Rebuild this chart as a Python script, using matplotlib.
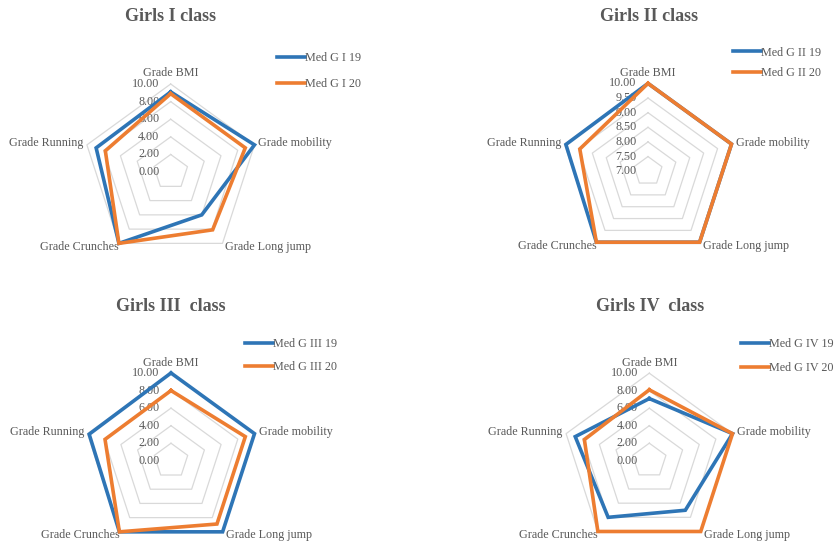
import matplotlib
matplotlib.use("Agg")
import matplotlib.pyplot as plt
import numpy as np
from matplotlib.lines import Line2D
from matplotlib.transforms import offset_copy

plt.rcParams["font.family"] = ["Liberation Serif", "DejaVu Serif"]

# ---- data ----
categories = ["Grade BMI", "Grade mobility", "Grade Long jump",
              "Grade Crunches", "Grade Running"]
titles = ["Girls I class", "Girls II class", "Girls III  class", "Girls IV  class"]
series_19 = ["Med G I 19", "Med G II 19", "Med G III 19", "Med G IV 19"]
series_20 = ["Med G I 20", "Med G II 20", "Med G III 20", "Med G IV 20"]

g1_19 = [9.1, 10.0, 6.0, 10.0, 8.9]
g1_20 = [8.9, 8.9, 8.1, 10.0, 7.8]
g2_19 = [10.0, 10.0, 10.0, 10.0, 9.95]
g2_20 = [10.0, 10.0, 10.0, 10.0, 9.45]
g3_19 = [10.0, 10.0, 10.0, 10.0, 9.8]
g3_20 = [8.0, 8.9, 8.9, 10.0, 7.9]
g4_19 = [7.1, 10.0, 7.0, 8.0, 8.9]
g4_20 = [8.1, 10.0, 10.0, 10.0, 7.8]

ticks_a = [0.0, 2.0, 4.0, 6.0, 8.0, 10.0]
ticks_b = [7.0, 7.5, 8.0, 8.5, 9.0, 9.5, 10.0]

data_19 = [g1_19, g2_19, g3_19, g4_19]
data_20 = [g1_20, g2_20, g3_20, g4_20]
ticks_all = [ticks_a, ticks_b, ticks_a, ticks_a]

# ---- styling / layout ----
W, H, DPI = 836, 546, 100
BLUE = "#2E75B6"
ORANGE = "#ED7D31"
GRID = "#D9D9D9"
TXT = "#595959"
FS = 8.7
LW = 2.6

# (centre x, centre y, radius) in pixels, y measured from top
geom = [(170.7, 172.1, 88.1), (648.0, 171.2, 87.8),
        (171.0, 460.8, 87.8), (649.3, 460.7, 87.5)]
title_pos = [(171, 16.5), (649, 16.5), (171, 306.5), (650, 306.5)]
legend_pos = [(277, 57.3, 25.4), (733, 51.7, 20.0),
              (245, 343.3, 22.7), (741, 343.3, 24.0)]

# label placement per category: (ha, va, dx px, dy px)
label_style = [("center", "bottom", 0, 4.5),
               ("left", "center", 4, 1.5),
               ("left", "center", 3, -3.5),
               ("right", "center", 0, -3.5),
               ("right", "center", -3.5, 1.5)]

fig = plt.figure(figsize=(W / DPI, H / DPI), dpi=DPI)
fig.patch.set_facecolor("white")

n = len(categories)
angles = np.arange(n) * 2 * np.pi / n
closed = np.append(angles, angles[0])

for i in range(4):
    cx, cy, R = geom[i]
    ax = fig.add_axes([(cx - R) / W, 1 - (cy + R) / H, 2 * R / W, 2 * R / H],
                      projection="polar")
    ax.set_theta_zero_location("N")
    ax.set_theta_direction(-1)
    ticks = ticks_all[i]
    ax.set_ylim(ticks[0], ticks[-1])
    ax.grid(False)
    ax.set_xticks([])
    ax.set_yticks([])
    ax.spines["polar"].set_visible(False)
    ax.patch.set_visible(False)

    # pentagon gridlines
    for t in ticks[1:]:
        ax.plot(closed, [t] * (n + 1), color=GRID, lw=0.9, zorder=1,
                clip_on=False)

    # value axis labels
    for t in ticks:
        tr = offset_copy(ax.transData, fig=fig, x=-11.3, y=0, units="dots")
        ax.text(0, t, f"{t:.2f}", transform=tr, ha="right", va="center",
                fontsize=FS, color=TXT, zorder=2)

    # category labels
    for k, cat in enumerate(categories):
        ha, va, dx, dy = label_style[k]
        tr = offset_copy(ax.transData, fig=fig, x=dx, y=dy, units="dots")
        ax.text(angles[k], ticks[-1], cat, transform=tr, ha=ha, va=va,
                fontsize=FS, color=TXT)

    v19 = data_19[i]
    v20 = data_20[i]
    ax.plot(closed, v19 + v19[:1], color=BLUE, lw=LW, zorder=3,
            clip_on=False, solid_joinstyle="miter")
    ax.plot(closed, v20 + v20[:1], color=ORANGE, lw=LW, zorder=4,
            clip_on=False, solid_joinstyle="miter")

    tx, ty = title_pos[i]
    fig.text(tx / W, 1 - ty / H, titles[i], ha="center", va="center",
             fontsize=13, fontweight="bold", color=TXT)

    lx, ly, ld = legend_pos[i]
    handles = [Line2D([], [], color=BLUE, lw=LW),
               Line2D([], [], color=ORANGE, lw=LW)]
    leg = ax.legend(handles, [series_19[i], series_20[i]],
                    loc="upper left",
                    bbox_to_anchor=(lx / W, 1 - (ly - 5) / H),
                    bbox_transform=fig.transFigure,
                    frameon=False, fontsize=FS, handlelength=2.3,
                    handletextpad=0.0, borderpad=0, borderaxespad=0,
                    labelspacing=(ld - 12) / 12)
    for txt in leg.get_texts():
        txt.set_color(TXT)

fig.savefig("out.png", dpi=DPI, facecolor="white")
